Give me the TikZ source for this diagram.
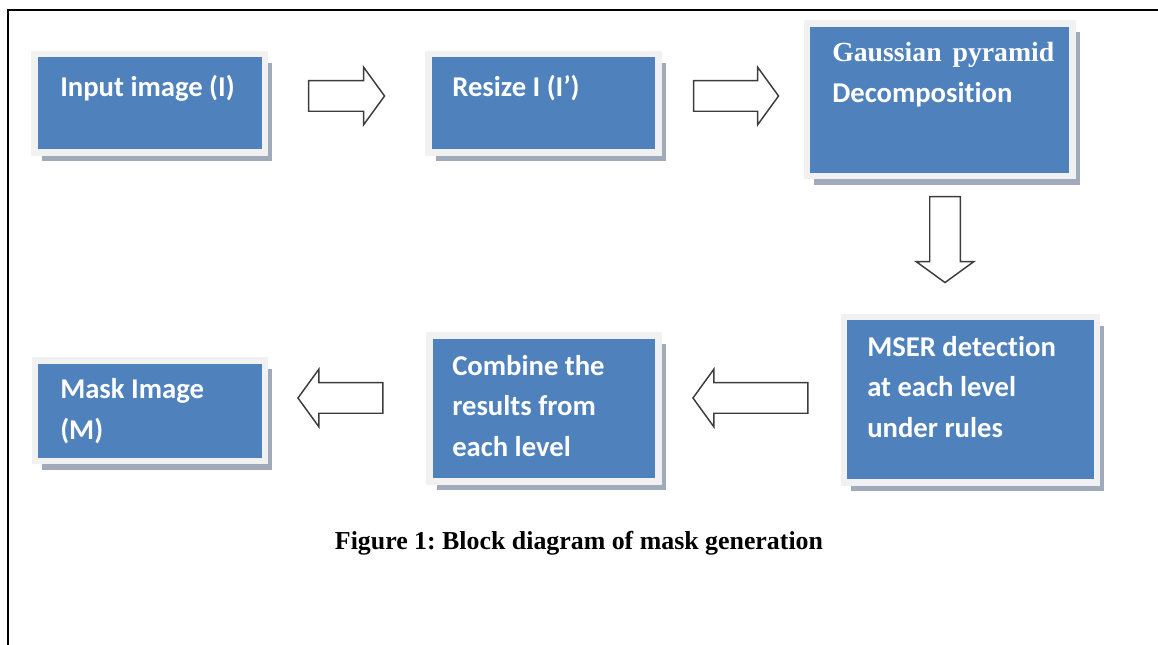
\documentclass[tikz,border=0pt]{standalone}
\usepackage{fontspec}
\setmainfont{Liberation Serif}
\newfontfamily\boxfont[Ligatures=NoCommon]{Carlito}
\frenchspacing
\usetikzlibrary{shapes.arrows,shadows}

\definecolor{boxblue}{RGB}{79,129,189}
\definecolor{framegray}{RGB}{241,241,241}
\definecolor{shadowgray}{RGB}{160,170,186}
\definecolor{arrowgray}{RGB}{60,60,60}

\tikzset{
  blkbox/.style={rectangle, inner sep=0pt, fill=boxblue, draw=framegray, line width=5pt,
    drop shadow={shadow xshift=5.5pt, shadow yshift=-6.5pt, fill=shadowgray, opacity=1}},
  blktext/.style={anchor=base west, inner sep=0pt, text=white, align=left,
    font=\boxfont\bfseries\fontsize{21.5pt}{30.75pt}\selectfont},
  blkarrow/.style={single arrow, draw=arrowgray, fill=white, line width=1.1pt,
    inner sep=10.9pt, single arrow head extend=10.1pt,
    single arrow tip angle=108}
}

\begin{document}
\begin{tikzpicture}[x=0.75pt,y=0.75pt,yscale=-1,xscale=1]
    \useasboundingbox (0,0) rectangle (1158,645); %same size as the page

    %Shape: Frame 
    \draw [line width=1.5pt]  (8,645) -- (8,10) -- (1158,10) ;

    %Shape: Boxes 
    \node [blkbox, minimum width=172.9pt, minimum height=73.9pt] (inp) at (149.75,103.25) {};
    \node [blkbox, minimum width=172.9pt, minimum height=73.9pt] (rsz) at (543.5,103.25) {};
    \node [blkbox, minimum width=199.1pt, minimum height=114.4pt] (gau) at (939.75,99.75) {};
    \node [blkbox, minimum width=189.75pt, minimum height=124.1pt] (msr) at (970.5,399.75) {};
    \node [blkbox, minimum width=171.75pt, minimum height=109.5pt] (cmb) at (544,408.5) {};
    \node [blkbox, minimum width=172.5pt, minimum height=75.4pt] (msk) at (150,410.75) {};

    %Shape: Block Arrows (the centre anchor sits a little behind the middle)
    \node [blkarrow, minimum height=57pt] (arr1) at (341,96) {};
    \node [blkarrow, minimum height=63.75pt] (arr2) at (730.5,96) {};
    \node [blkarrow, minimum height=64.5pt, shape border rotate=270] (arr3) at (945,234) {};
    \node [blkarrow, minimum height=86.25pt, shape border rotate=180] (arr4) at (756,398) {};
    \node [blkarrow, minimum height=63.75pt, shape border rotate=180] (arr5) at (346,398) {};

    % Text Node (placed at the baseline of its last line)
    \node [blktext] (inptxt) at (60,97) {Input image (I)};
    % Text Node
    \node [blktext] (rsztxt) at (452,97) {Resize I (I’)};
    % Text Node
    \node [blktext] (gautxt) at (832,103) {{\rmfamily\fontsize{20.8pt}{30.75pt}\selectfont Gaussian\hspace{3pt} pyramid}\\Decomposition};
    % Text Node
    \node [blktext] (msrtxt) at (867,438) {MSER detection\\at each level\\under rules};
    % Text Node
    \node [blktext] (cmbtxt) at (452,457) {Combine the\\results from\\each level};
    % Text Node
    \node [blktext] (msktxt) at (60,440) {Mask Image\\(M)};
    % Text Node
    \node [anchor=base, inner sep=0pt, font=\bfseries\fontsize{19.4pt}{23pt}\selectfont] (caption) at (579,549) {Figure 1: Block diagram of mask generation};

\end{tikzpicture}
\end{document}
